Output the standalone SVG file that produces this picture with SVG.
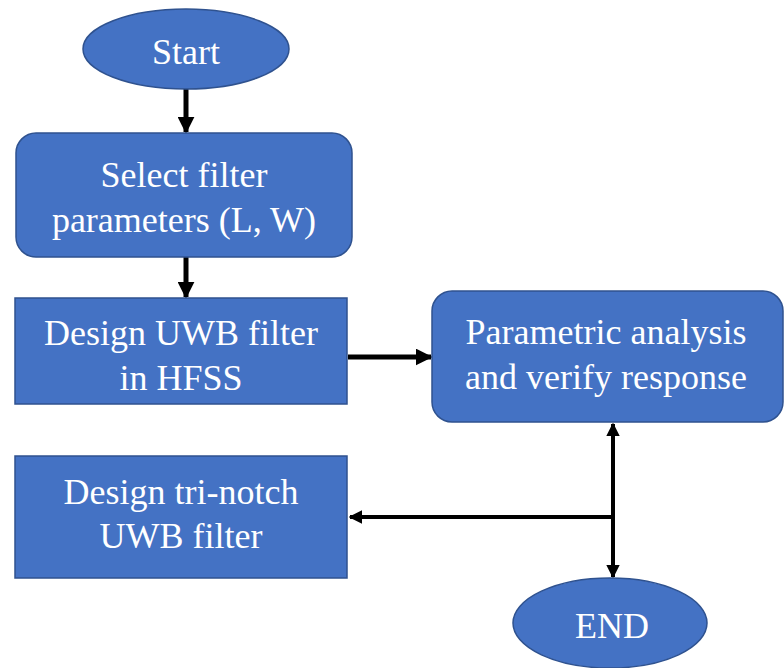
<svg xmlns="http://www.w3.org/2000/svg" width="784" height="668" viewBox="0 0 784 668">
  <style>
    .shape { fill: #4472C4; stroke: #2F528F; stroke-width: 1.5; }
    text { fill: #ffffff; font-family: "Liberation Serif", "DejaVu Serif", serif; font-size: 36px; text-anchor: middle; }
    .wire { fill: none; stroke: #000000; stroke-width: 5; }
    .thin { stroke-width: 4; }
  </style>
  <defs>
    <marker id="head" viewBox="0 0 10 10" refX="9" refY="5" markerWidth="3.4" markerHeight="3.4" orient="auto" markerUnits="strokeWidth">
      <path d="M0,0 L10,5 L0,10 Z" fill="#000000"/>
    </marker>
  </defs>
  <rect width="784" height="668" fill="#ffffff"/>

  <g id="connectors">
    <path class="wire" d="M186,89 V132" marker-end="url(#head)"/>
    <path class="wire" d="M186,257 V297" marker-end="url(#head)"/>
    <path class="wire" d="M348,357 H431" marker-end="url(#head)"/>
    <path class="wire thin" d="M613,517 V424" marker-end="url(#head)"/>
    <path class="wire thin" d="M613,517 H350" marker-end="url(#head)"/>
    <path class="wire thin" d="M613,517 V577" marker-end="url(#head)"/>
  </g>

  <g id="start">
    <ellipse class="shape" cx="186" cy="49" rx="103" ry="40"/>
    <text x="186" y="64">Start</text>
  </g>

  <g id="select">
    <rect class="shape" x="16" y="133" width="336" height="124" rx="20"/>
    <text x="184" y="187">Select filter</text>
    <text x="184" y="232">parameters (L, W)</text>
  </g>

  <g id="design">
    <rect class="shape" x="15" y="298" width="332" height="106"/>
    <text x="181" y="345">Design UWB filter</text>
    <text x="181" y="390">in HFSS</text>
  </g>

  <g id="parametric">
    <rect class="shape" x="432" y="291" width="351" height="131" rx="20"/>
    <text x="606" y="344">Parametric analysis</text>
    <text x="606" y="389">and verify response</text>
  </g>

  <g id="trinotch">
    <rect class="shape" x="15" y="456" width="332" height="122"/>
    <text x="181" y="504">Design tri-notch</text>
    <text x="181" y="548">UWB filter</text>
  </g>

  <g id="end">
    <ellipse class="shape" cx="610" cy="623" rx="97" ry="45"/>
    <text x="612" y="638">END</text>
  </g>
</svg>
